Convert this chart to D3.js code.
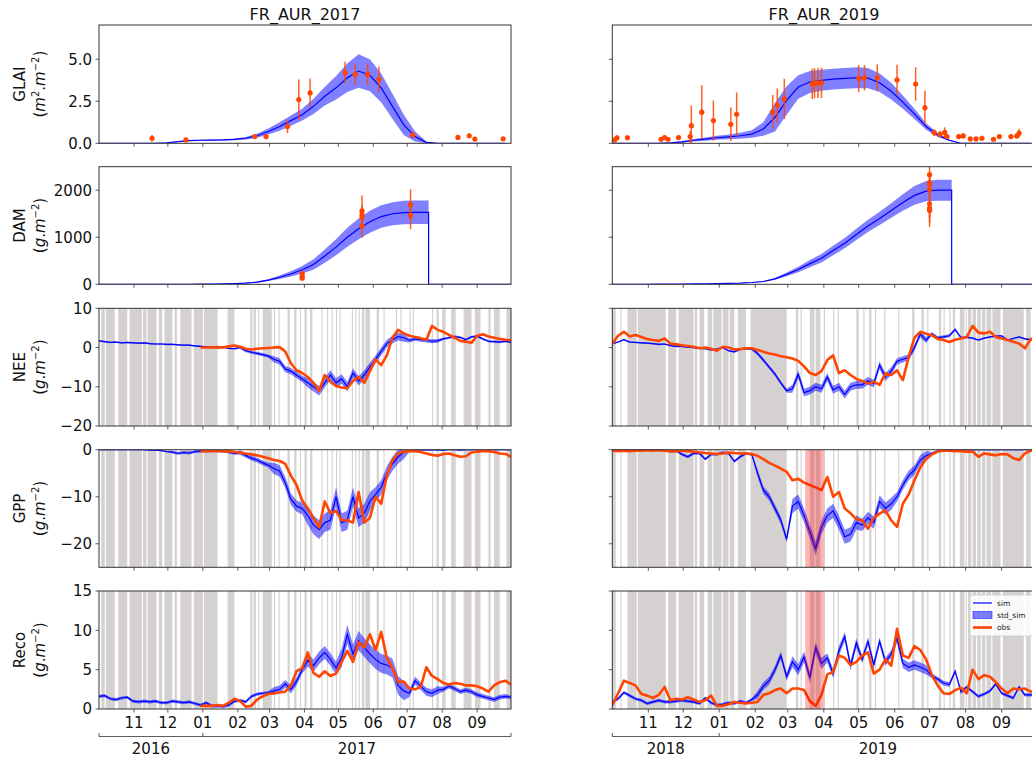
<!DOCTYPE html>
<html>
<head>
<meta charset="utf-8">
<script src="https://cdn.jsdelivr.net/npm/d3@7"></script>
<style>
body { margin: 0; background: #fff; }
svg { display: block; font-family: "DejaVu Sans", sans-serif; }
</style>
</head>
<body>
<script>
// ---- data ----
// flux series: one value every 5 days from 1 Oct (index i -> day 5*i)
var STEP = 5;
// GLAI / DAM series: one value every 10 days from 1 Oct
var GRID = 10;
var HARVEST = 292;   // day of the DAM drop

var titles = ['FR_AUR_2017', 'FR_AUR_2019'];
var yearTicksL = ['2016', '2017'];
var yearTicksR = ['2018', '2019'];

var glaiSimL = [0,0,0,0,0,0,0.02,0.1,0.16,0.18,0.19,0.2,0.23,0.3,0.45,0.7,1.0,1.35,1.7,2.2,2.8,3.3,3.9,4.3,4.05,3.3,2.2,1.1,0.4,0.06,0,0,0,0,0,0,0];
var glaiStdL = [0,0,0,0,0,0,0.01,0.02,0.03,0.03,0.03,0.04,0.05,0.08,0.12,0.18,0.25,0.3,0.35,0.45,0.55,0.7,0.85,1.0,0.95,0.85,0.75,0.6,0.3,0.05,0,0,0,0,0,0,0];
var glaiSimR = [0,0,0,0,0,0.03,0.08,0.18,0.25,0.33,0.38,0.45,0.55,0.85,1.55,2.55,3.35,3.65,3.75,3.82,3.86,3.9,3.88,3.6,3.1,2.45,1.75,1.0,0.5,0.18,0,0,0,0,0,0,0];
var glaiStdR = [0,0,0,0,0,0.02,0.04,0.08,0.1,0.12,0.14,0.18,0.22,0.4,0.85,0.85,0.7,0.65,0.62,0.62,0.62,0.62,0.6,0.55,0.5,0.4,0.3,0.2,0.12,0.05,0,0,0,0,0,0,0];

// [day, value, error]
var glaiObsL = [[47,0.3,0.2],[77,0.2,0.1],[138,0.4,0.15],[148,0.4,0.15],[167,1.0,0.4],[177,2.6,1.2],[187,3.0,0.85],[218,4.2,0.65],[227,4.1,0.65],[238,4.1,0.65],[248,3.8,0.76],[278,0.5,0.2],[318,0.35,0.15],[328,0.45,0.15],[333,0.25,0.1],[358,0.27,0.1]];
var glaiObsR = [[2,0.2,0.1],[4,0.33,0.15],[13,0.33,0.15],[42,0.24,0.1],[45,0.34,0.15],[48,0.24,0.1],[57,0.34,0.12],[67,0.4,0.35],[68,1.05,1.2],[77,1.85,1.6],[87,1.35,1.2],[102,1.13,1.0],[107,1.73,1.3],[138,1.87,1.0],[142,2.26,1.0],[148,2.64,1.2],[172,3.53,0.9],[174,3.57,0.9],[177,3.6,0.9],[180,3.6,0.9],[212,3.85,0.8],[217,3.9,0.75],[228,3.9,0.8],[245,3.77,0.9],[261,3.53,1.0],[269,2.12,1.0],[277,0.63,0.2],[282,0.54,0.2],[286,0.65,0.3],[288,0.4,0.15],[298,0.4,0.15],[302,0.44,0.15],[308,0.26,0.1],[313,0.26,0.1],[318,0.3,0.15],[328,0.24,0.1],[333,0.4,0.12],[343,0.4,0.12],[348,0.44,0.15],[350,0.6,0.25]];

var damSimL = [0,0,0,0,0,0,0,0,0,2,5,10,15,25,45,90,150,220,310,420,600,790,1000,1180,1330,1440,1500,1525,1530,1530,0,0,0,0,0,0,0];
var damStdL = [0,0,0,0,0,0,0,0,0,1,2,3,5,8,12,20,35,55,80,110,140,170,200,220,235,240,245,250,250,250,0,0,0,0,0,0,0];
var damSimR = [0,0,0,0,2,4,6,8,10,13,18,25,38,60,115,210,315,440,555,720,875,1060,1240,1400,1570,1740,1890,1980,2000,2000,0,0,0,0,0,0,0];
var damStdR = [0,0,0,0,0,0,0,0,1,2,3,4,6,10,20,40,60,75,90,100,110,120,130,140,155,175,200,215,225,225,0,0,0,0,0,0,0];

var damObsL = [[180,230,30],[180,170,25],[180,130,20],[233,1560,330],[233,1480,200],[233,1420,200],[233,1240,250],[276,1690,330],[276,1470,300]];
var damObsR = [[273,2330,250],[273,2160,150],[273,2130,150],[273,2020,200],[273,1710,300],[273,1620,300],[273,1570,350]];

var neeSimL = [1.7,1.5,1.3,1.4,1.2,1.3, 1.2,1.1,1.2,1.0,0.9,0.9, 0.8,0.8,0.7,0.6,0.6,0.4, 0.3,0.2,0.1,0.0,0.1,-0.2,
  -0.3,0.0,-0.8,-1.2,-1.5,-1.8, -2.2,-3.0,-3.5,-5.5,-6.0,-7.0, -8.0,-9.0,-10.0,-11.0,-9.0,-7.0, -9.0,-8.0,-10.0,-6.5,-8.5,-7.0,
  -5.0,-3.0,-1.0,1.0,2.0,2.8, 2.5,1.8,2.2,2.0,1.8,1.6, 1.7,2.2,2.5,2.8,2.6,2.0, 2.7,2.9,2.2,1.6,1.5,1.4,1.6,1.3];
var neeObsL = [null,null,null,null,null,null,null,null,null,null,null,null,null,null,null,null,null,null,0.0,
  0.0,0.0,0.1,0.0,0.3, 0.5,0.2,-0.3,-0.5,-0.3,-0.2, -0.1,0.0,0.1,-1.0,-4.0,-5.8, -6.5,-7.5,-9.0,-11.0,-7.0,-8.7,
  -9.8,-10.2,-10.4,-8.5,-7.5,-9.0, -6.0,-3.0,-4.5,-2.0,2.5,4.5, 3.6,3.0,2.7,2.4,1.9,5.5, 4.5,4.0,3.2,2.5,1.7,1.5,
  1.2,3.0,3.4,2.8,2.5,2.2,2.0,1.9];
var gppSimL = [0,0,0,0,0,0,0,0,0,-0.1,-0.1,-0.2, -0.4,-0.5,-0.8,-0.6,-0.7,-0.4, -0.3,-0.3,-0.2,-0.3,-0.3,-0.5,
  -0.8,-0.6,-1.2,-1.8,-2.2,-2.8, -3.3,-4.0,-4.5,-7.0,-10.5,-12.0, -12.5,-14.0,-16.0,-17.0,-15.5,-15.0, -10.0,-15.5,-15.0,-10.0,-14.5,-13.5,
  -11.0,-9.5,-8.0,-5.0,-3.0,-1.5, -0.5,-0.2,-0.1,0,0,0, 0,-0.1,0,0,-0.1,0, 0,0,-0.1,0,0,0,0,0];
var gppObsL = [null,null,null,null,null,null,null,null,null,null,null,null,null,null,null,null,null,null,-0.3,
  -0.3,-0.3,-0.2,-0.4,-0.3, -0.5,-0.6,-0.8,-1.0,-1.2,-1.5, -1.8,-2.2,-2.4,-3.0,-5.5,-7.5, -10.8,-12.5,-14.5,-16.5,-11.0,-13.5,
  -13.0,-15.0,-15.0,-15.5,-9.0,-15.5, -14.5,-10.0,-11.5,-5.5,-2.2,-0.8, -0.4,-0.3,-0.3,-0.5,-0.8,-1.1, -1.3,-0.9,-0.8,-1.2,-1.5,-1.4,
  -0.6,-0.4,-0.3,-0.3,-0.5,-0.8,-0.9,-1.5];
var recoSimL = [1.6,1.7,1.3,1.2,1.4,1.5, 1.0,0.9,1.0,0.9,1.0,0.8, 0.8,1.0,0.9,0.8,0.9,0.7, 0.5,0.8,0.4,0.4,0.3,0.5,
  1.0,1.1,0.9,1.6,1.9,2.0, 2.1,2.3,2.5,3.2,2.5,3.5, 5.0,6.2,5.5,6.5,7.2,6.3, 5.2,6.5,9.5,7.0,8.7,7.8,
  7.0,6.3,5.8,5.6,5.2,3.0, 2.3,2.0,3.6,2.9,2.2,2.0, 2.4,2.5,2.9,2.6,2.2,2.4, 2.2,1.8,1.6,1.4,1.2,1.5,1.6,1.5];
var recoObsL = [null,null,null,null,null,null,null,null,null,null,null,null,null,null,null,null,null,null,0.4,
  0.4,0.4,0.5,0.4,0.8, 1.3,1.0,0.3,0.4,1.2,1.6, 1.9,2.0,2.1,2.2,3.0,4.8, 5.2,7.2,4.6,4.1,4.8,4.2,
  4.5,6.0,7.4,6.0,8.5,7.8, 9.5,7.5,9.8,6.5,5.2,3.4, 3.5,2.6,2.5,2.8,5.3,4.2, 3.8,3.3,3.1,3.3,3.2,3.0,
  3.0,2.9,2.6,2.2,3.0,3.4,3.6,3.1];

var neeSimR = [1.0,1.4,2.0,1.4,1.3,1.2, 1.1,1.0,0.8,0.9,0.5,0.3, 0.3,0.1,0.0,-0.2,-0.3,-0.6, -0.4,0.0,-0.8,-1.1,-0.5,-0.3,
  -0.4,-1.5,-3.2,-5.0,-6.8,-9.0, -11.0,-10.5,-6.8,-11.5,-11.0,-10.0, -10.5,-7.5,-10.8,-10.0,-12.0,-10.0, -9.5,-9.5,-8.5,-9.2,-4.5,-7.5,
  -6.0,-3.5,-3.0,-2.5,0.0,3.4, 1.9,3.5,2.5,2.7,3.0,4.6, 2.5,2.6,2.4,1.9,2.4,2.7, 2.9,3.0,1.9,2.3,2.7,2.2,2.0,2.0];
var neeObsR = [1.0,3.0,4.0,2.8,3.2,2.7, 2.2,1.9,1.7,2.3,1.0,0.8, 0.6,0.4,0.2,-0.2,0.0,-0.3, -0.8,0.2,0.0,-0.5,-0.4,-0.2,
  -0.2,-0.6,-1.1,-1.5,-1.8,-2.2, -2.5,-2.8,-3.4,-4.8,-6.5,-7.0, -6.0,-3.2,-2.0,-6.5,-5.8,-7.0, -8.0,-8.5,-9.2,-8.7,-9.5,-6.6,
  -7.0,-5.8,-8.3,-2.4,2.5,4.0, 3.5,3.1,2.2,1.9,1.4,2.0, 2.3,2.7,5.5,3.8,3.6,4.0, 2.7,2.3,1.9,1.5,1.0,-0.2,2.2,2.0];
var gppSimR = [0,0,0,0,0,0, 0,0,0,-0.1,-0.3,-0.2, -1.0,-1.5,-0.8,-0.8,-2.0,-1.0, -1.0,-0.6,-0.8,-2.5,-1.5,-0.8,
  -1.0,-5.0,-8.6,-10.0,-12.5,-15.0, -19.0,-12.0,-11.0,-14.0,-17.5,-21.0, -16.5,-14.0,-13.0,-15.5,-18.5,-18.0, -15.5,-16.0,-14.5,-15.5,-11.0,-12.5,
  -11.5,-10.0,-7.5,-5.5,-4.3,-2.2, -1.3,-0.8,-0.3,-0.1,0,0, 0,0,0,0,0,0, 0,0,0,0,0,0,0,0];
var gppObsR = [-0.2,-0.3,-0.2,-0.3,-0.2,-0.2, -0.1,-0.2,-0.1,-0.2,-0.4,-0.3, -0.2,-0.3,-0.4,-0.6,-0.7,-0.8, -0.9,-0.8,-0.6,-0.7,-0.8,-0.8,
  -0.9,-1.3,-2.0,-2.8,-3.4,-4.0, -4.7,-6.5,-6.2,-7.0,-7.5,-8.0, -8.6,-5.8,-10.0,-9.0,-12.5,-13.5, -14.8,-15.0,-16.8,-14.5,-13.6,-12.9,
  -15.0,-16.4,-11.5,-9.5,-6.5,-3.8, -2.0,-1.0,-0.4,-0.2,-0.2,-0.3, -0.3,-0.4,-0.4,-1.5,-0.8,-1.0, -1.2,-0.9,-1.0,-1.8,-2.2,-0.8,-0.2,-0.2];
var recoSimR = [0.9,1.3,2.1,1.7,1.3,1.1, 0.7,0.9,1.1,0.9,0.9,1.0, 1.1,1.0,0.9,0.7,1.4,0.8, 0.5,0.6,0.8,0.7,1.0,0.8,
  1.2,1.8,2.9,3.6,5.0,6.8, 4.1,6.0,5.0,6.6,4.0,7.8, 5.8,6.5,4.5,7.4,9.2,5.5, 8.4,6.3,8.6,5.6,8.6,6.0,
  7.0,9.0,5.8,5.3,5.6,5.3, 5.0,4.2,3.8,3.3,3.1,4.8, 2.2,2.8,2.2,1.6,1.9,2.3, 3.2,2.0,1.7,1.4,2.8,1.8,1.8,1.8];
var recoObsR = [0.5,2.0,3.6,3.3,3.0,1.9, 1.7,1.4,1.8,2.8,1.1,1.3, 1.2,1.5,1.2,0.9,1.1,1.7, 0.4,0.4,0.6,0.9,0.8,0.7,
  0.8,0.9,1.8,2.0,2.4,2.6, 2.0,2.6,2.6,2.4,1.0,0.4, 1.8,4.4,4.7,6.8,6.5,5.6, 6.0,6.8,7.2,4.5,5.0,6.3,
  5.5,10.2,6.8,6.5,8.0,7.5, 6.3,4.3,3.0,2.0,1.9,2.4, 2.7,2.0,5.0,3.8,4.3,4.1, 3.4,2.6,2.0,2.6,2.5,2.6,2.2,2.3];

// monthly std of the simulations, Oct .. Sep
var neeStdL  = [0.2,0.2,0.2,0.2,0.4,0.8,1.2,1.2,1.0,0.5,0.3,0.3];
var gppStdL  = [0.1,0.1,0.3,0.3,0.5,1.2,2.0,2.0,1.5,0.3,0.1,0.1];
var recoStdL = [0.2,0.2,0.2,0.2,0.2,0.5,0.8,1.2,1.2,0.5,0.3,0.3];
var neeStdR  = [0.2,0.2,0.2,0.2,0.5,1.0,1.0,1.0,0.8,0.4,0.2,0.2];
var gppStdR  = [0.3,0.3,0.3,0.3,0.8,1.5,1.5,1.3,1.0,0.3,0.1,0.1];
var recoStdR = [0.2,0.2,0.2,0.2,0.5,0.7,0.6,0.5,0.6,0.3,0.2,0.2];

// days without flux measurements [from, to]
var gapsL = [[2,5],[6,14],[17,25],[27,38],[39,42],[43,51],[53,56],[58,65],[67,69],[72,82],[84,92],[93,105],[114,120],[134,136],[137,139],[141,142],[145,153],[155,156],[159,160],[167,169],[173,175],[178,179],[182,184],[187,189],[197,198],[202,203],[206,207],[210,211],[213,214],[224,225],[227,228],[230,231],[233,235],[236,240],[246,248],[252,253],[263,264],[267,268],[275,276],[278,279],[295,296],[299,301],[304,307],[312,316],[323,330],[333,338],[345,347],[350,355],[361,365]];
var gapsR = [[0,3],[7,8],[13,21],[22,46],[48,55],[57,70],[71,73],[75,79],[82,86],[87,94],[95,100],[101,105],[108,115],[119,150],[158,160],[162,163],[170,174],[175,179],[182,183],[190,191],[194,195],[210,212],[216,217],[221,223],[226,227],[234,235],[246,247],[258,260],[266,268],[271,272],[281,283],[285,286],[290,291],[293,295],[299,303],[304,305],[306,309],[310,313],[314,317],[318,321],[322,326],[327,334],[336,354],[356,360]];
var flagR = [[166,182]];

var legendItems = ['sim', 'std_sim', 'obs'];

// ---- layout ----
var W = 1032, H = 758;
var BLUE = '#0000ff', OBS = '#ff4500', GAP = '#d5d1d1';

var sites = [
  { key: 'L', title: titles[0], start: new Date(Date.UTC(2016, 9, 1)), x0: 99, x1: 511, tx: 305, years: yearTicksL, gaps: gapsL, flags: [], labels: true,
    glai: [glaiSimL, glaiStdL, glaiObsL], dam: [damSimL, damStdL, damObsL],
    nee: [neeSimL, neeStdL, neeObsL], gpp: [gppSimL, gppStdL, gppObsL], reco: [recoSimL, recoStdL, recoObsL] },
  { key: 'R', title: titles[1], start: new Date(Date.UTC(2018, 9, 1)), x0: 612.3, x1: 1036.5, tx: 824, years: yearTicksR, gaps: gapsR, flags: flagR, labels: false,
    glai: [glaiSimR, glaiStdR, glaiObsR], dam: [damSimR, damStdR, damObsR],
    nee: [neeSimR, neeStdR, neeObsR], gpp: [gppSimR, gppStdR, gppObsR], reco: [recoSimR, recoStdR, recoObsR] }
];

var rows = [
  { key: 'glai', name: 'GLAI', unit: 'm', y0: 25, y1: 143.3, dom: [0, 7.04], ticks: [0, 2.5, 5], fmt: d3.format('.1f') },
  { key: 'dam', name: 'DAM', unit: 'g', y0: 166.7, y1: 284.3, dom: [0, 2500], ticks: [0, 1000, 2000], fmt: d3.format('d') },
  { key: 'nee', name: 'NEE', unit: 'g', y0: 308.3, y1: 426, dom: [-20, 10], ticks: [-20, -10, 0, 10], fmt: d3.format('d'), flag: false },
  { key: 'gpp', name: 'GPP', unit: 'g', y0: 449.7, y1: 567.3, dom: [-25, 0], ticks: [-20, -10, 0], fmt: d3.format('d'), flag: true },
  { key: 'reco', name: 'Reco', unit: 'g', y0: 591, y1: 709, dom: [0, 15], ticks: [0, 5, 10, 15], fmt: d3.format('d'), flag: true }
];

var svg = d3.select('body').append('svg')
  .attr('width', W)
  .attr('height', H);
var defs = svg.append('defs');

function dayDate(site, d) { return new Date(+site.start + d * 864e5); }
function dx(site, d) { return site.x(dayDate(site, d)); }
function monthIdx(site, d) { return (dayDate(site, d).getUTCMonth() + 3) % 12; }

sites.forEach(function(site) {
  site.x = d3.scaleUtc()
    .domain([site.start, dayDate(site, 365)])
    .range([site.x0, site.x1]);
  site.months = d3.utcMonth.range(d3.utcMonth.offset(site.start, 1), dayDate(site, 365));
});

function makePanel(site, r) {
  var y = d3.scaleLinear().domain(r.dom).range([r.y1, r.y0]);
  var id = 'clip' + site.key + r.key;
  defs.append('clipPath').attr('id', id)
    .append('rect')
    .attr('x', site.x0).attr('y', r.y0)
    .attr('width', site.x1 - site.x0).attr('height', r.y1 - r.y0);
  var g = svg.append('g');
  var body = g.append('g').attr('clip-path', 'url(#' + id + ')');
  return { g: g, body: body, y: y };
}

function finishPanel(site, r, p) {
  // frame
  p.g.append('rect')
    .attr('x', site.x0).attr('y', r.y0)
    .attr('width', site.x1 - site.x0).attr('height', r.y1 - r.y0)
    .attr('fill', 'none').attr('stroke', '#333').attr('stroke-width', 1);
  // x ticks
  p.g.selectAll('line.xt').data(site.months).enter().append('line')
    .attr('x1', function(d) { return site.x(d); }).attr('x2', function(d) { return site.x(d); })
    .attr('y1', r.y1).attr('y2', r.y1 + 3.5)
    .attr('stroke', '#333').attr('stroke-width', 0.8);
  // y ticks
  p.g.selectAll('line.yt').data(r.ticks).enter().append('line')
    .attr('x1', site.x0 - 3.5).attr('x2', site.x0)
    .attr('y1', function(d) { return p.y(d); }).attr('y2', function(d) { return p.y(d); })
    .attr('stroke', '#333').attr('stroke-width', 0.8);
  if (site.labels) {
    p.g.selectAll('text.yl').data(r.ticks).enter().append('text')
      .attr('x', site.x0 - 7).attr('y', function(d) { return p.y(d); })
      .attr('dy', '0.36em')
      .attr('text-anchor', 'end')
      .attr('font-size', 15)
      .attr('fill', '#111')
      .text(function(d) { return r.fmt(d); });
    var cy = (r.y0 + r.y1) / 2;
    p.g.append('text')
      .attr('transform', 'translate(25,' + cy + ') rotate(-90)')
      .attr('text-anchor', 'middle')
      .attr('font-size', 15)
      .attr('fill', '#111')
      .text(r.name);
    var u = p.g.append('text')
      .attr('transform', 'translate(45,' + cy + ') rotate(-90)')
      .attr('text-anchor', 'middle')
      .attr('font-size', 15)
      .attr('fill', '#111');
    u.append('tspan').text('(');
    u.append('tspan').attr('font-style', 'italic').text(r.unit);
    if (r.unit === 'm') {
      u.append('tspan').attr('font-size', 10).attr('dy', -6).text('2');
      u.append('tspan').attr('dy', 6).text('.');
    } else {
      u.append('tspan').text('.');
    }
    u.append('tspan').attr('font-style', 'italic').text('m');
    u.append('tspan').attr('font-size', 10).attr('dy', -6).text('\u22122');
    u.append('tspan').attr('dy', 6).text(')');
  }
}

function errorPoints(site, p, obs) {
  var g = p.body.append('g');
  g.selectAll('line').data(obs).enter().append('line')
    .attr('x1', function(d) { return dx(site, d[0]); })
    .attr('x2', function(d) { return dx(site, d[0]); })
    .attr('y1', function(d) { return p.y(d[1] - d[2]); })
    .attr('y2', function(d) { return p.y(d[1] + d[2]); })
    .attr('stroke', OBS).attr('stroke-width', 1.5).attr('opacity', 0.85);
  g.selectAll('circle').data(obs).enter().append('circle')
    .attr('cx', function(d) { return dx(site, d[0]); })
    .attr('cy', function(d) { return p.y(d[1]); })
    .attr('r', 2.6)
    .attr('fill', OBS);
}

function glaiPanel(site, r) {
  var p = makePanel(site, r);
  var sim = site.glai[0], std = site.glai[1];
  var pts = sim.map(function(v, i) { return { d: i * GRID, v: v, s: std[i] }; });
  p.body.append('path').datum(pts)
    .attr('d', d3.area()
      .x(function(d) { return dx(site, d.d); })
      .y0(function(d) { return p.y(Math.max(0, d.v - d.s)); })
      .y1(function(d) { return p.y(d.v + d.s); }))
    .attr('fill', BLUE).attr('fill-opacity', 0.5);
  p.body.append('path').datum(pts)
    .attr('d', d3.line().x(function(d) { return dx(site, d.d); }).y(function(d) { return p.y(d.v); }))
    .attr('fill', 'none').attr('stroke', BLUE).attr('stroke-width', 1.2);
  errorPoints(site, p, site.glai[2]);
  finishPanel(site, r, p);
}

function damPanel(site, r) {
  var p = makePanel(site, r);
  var sim = site.dam[0], std = site.dam[1];
  var pts = [];
  sim.forEach(function(v, i) { if (i * GRID < HARVEST) pts.push({ d: i * GRID, v: v, s: std[i] }); });
  var last = pts[pts.length - 1];
  pts.push({ d: HARVEST, v: last.v, s: last.s });
  p.body.append('path').datum(pts)
    .attr('d', d3.area()
      .x(function(d) { return dx(site, d.d); })
      .y0(function(d) { return p.y(Math.max(0, d.v - d.s)); })
      .y1(function(d) { return p.y(d.v + d.s); }))
    .attr('fill', BLUE).attr('fill-opacity', 0.5);
  var linePts = pts.concat([{ d: HARVEST, v: 0 }, { d: 365, v: 0 }]);
  p.body.append('path').datum(linePts)
    .attr('d', d3.line().x(function(d) { return dx(site, d.d); }).y(function(d) { return p.y(d.v); }))
    .attr('fill', 'none').attr('stroke', BLUE).attr('stroke-width', 1.2);
  errorPoints(site, p, site.dam[2]);
  finishPanel(site, r, p);
}

function fluxPanel(site, r) {
  var p = makePanel(site, r);
  var sim = site[r.key][0], std = site[r.key][1], obs = site[r.key][2];
  p.body.selectAll('rect.gap').data(site.gaps).enter().append('rect')
    .attr('x', function(d) { return dx(site, d[0]); })
    .attr('width', function(d) { return dx(site, d[1]) - dx(site, d[0]); })
    .attr('y', r.y0).attr('height', r.y1 - r.y0)
    .attr('fill', GAP);
  var pts = sim.map(function(v, i) {
    return { d: i * STEP, v: v, s: std[monthIdx(site, i * STEP)], o: obs[i] };
  });
  p.body.append('path').datum(pts)
    .attr('d', d3.area()
      .x(function(d) { return dx(site, d.d); })
      .y0(function(d) { return p.y(d.v - d.s); })
      .y1(function(d) { return p.y(d.v + d.s); }))
    .attr('fill', BLUE).attr('fill-opacity', 0.5);
  p.body.append('path').datum(pts)
    .attr('d', d3.line().x(function(d) { return dx(site, d.d); }).y(function(d) { return p.y(d.v); }))
    .attr('fill', 'none').attr('stroke', BLUE).attr('stroke-width', 1.2);
  p.body.append('path').datum(pts)
    .attr('d', d3.line()
      .defined(function(d) { return d.o != null; })
      .x(function(d) { return dx(site, d.d); })
      .y(function(d) { return p.y(d.o); }))
    .attr('fill', 'none').attr('stroke', OBS).attr('stroke-width', 2.6)
    .attr('stroke-linejoin', 'round');
  if (r.flag) {
    p.body.selectAll('rect.flag').data(site.flags).enter().append('rect')
      .attr('x', function(d) { return dx(site, d[0]); })
      .attr('width', function(d) { return dx(site, d[1]) - dx(site, d[0]); })
      .attr('y', r.y0).attr('height', r.y1 - r.y0)
      .attr('fill', 'red').attr('fill-opacity', 0.3);
  }
  finishPanel(site, r, p);
  return p;
}

sites.forEach(function(site) {
  // title
  svg.append('text')
    .attr('x', site.tx)
    .attr('y', 20)
    .attr('text-anchor', 'middle')
    .attr('font-size', 16)
    .attr('fill', '#111')
    .text(site.title);

  glaiPanel(site, rows[0]);
  damPanel(site, rows[1]);
  fluxPanel(site, rows[2]);
  fluxPanel(site, rows[3]);
  fluxPanel(site, rows[4]);

  // month labels under the last row
  svg.selectAll('text.m' + site.key).data(site.months).enter().append('text')
    .attr('x', function(d) { return site.x(d); })
    .attr('y', 728)
    .attr('text-anchor', 'middle')
    .attr('font-size', 15)
    .attr('fill', '#111')
    .text(d3.utcFormat('%m'));

  // year axis
  var jan = d3.utcYear.ceil(site.start);
  var yy = 736.5;
  svg.append('line')
    .attr('x1', site.x0).attr('x2', site.x1).attr('y1', yy).attr('y2', yy)
    .attr('stroke', '#333').attr('stroke-width', 0.8);
  svg.selectAll('line.yr' + site.key).data([site.start, jan, dayDate(site, 365)]).enter().append('line')
    .attr('x1', function(d) { return site.x(d); }).attr('x2', function(d) { return site.x(d); })
    .attr('y1', yy - 3.5).attr('y2', yy)
    .attr('stroke', '#333').attr('stroke-width', 0.8);
  var spans = [[site.start, jan], [jan, dayDate(site, 365)]];
  svg.selectAll('text.yr' + site.key).data(spans).enter().append('text')
    .attr('x', function(d) { return (site.x(d[0]) + site.x(d[1])) / 2; })
    .attr('y', 754)
    .attr('text-anchor', 'middle')
    .attr('font-size', 15)
    .attr('fill', '#111')
    .text(function(d, i) { return site.years[i]; });

  if (site.key === 'R') {
    var lg = svg.append('g').attr('transform', 'translate(970,595)');
    lg.append('rect')
      .attr('width', 72).attr('height', 41).attr('rx', 2)
      .attr('fill', '#fff').attr('fill-opacity', 0.85)
      .attr('stroke', '#ccc').attr('stroke-width', 0.8);
    var ly = [8, 20, 32.5];
    lg.append('line').attr('x1', 3).attr('x2', 22).attr('y1', ly[0]).attr('y2', ly[0])
      .attr('stroke', BLUE).attr('stroke-width', 1.2);
    lg.append('rect').attr('x', 3).attr('y', ly[1] - 3.5).attr('width', 19).attr('height', 7)
      .attr('fill', BLUE).attr('fill-opacity', 0.5).attr('stroke', BLUE).attr('stroke-opacity', 0.5);
    lg.append('line').attr('x1', 3).attr('x2', 22).attr('y1', ly[2]).attr('y2', ly[2])
      .attr('stroke', OBS).attr('stroke-width', 2.6);
    lg.selectAll('text').data(legendItems).enter().append('text')
      .attr('x', 27).attr('y', function(d, i) { return ly[i]; })
      .attr('dy', '0.35em')
      .attr('font-size', 7.5)
      .attr('fill', '#222')
      .text(function(d) { return d; });
  }
});
</script>
</body>
</html>
